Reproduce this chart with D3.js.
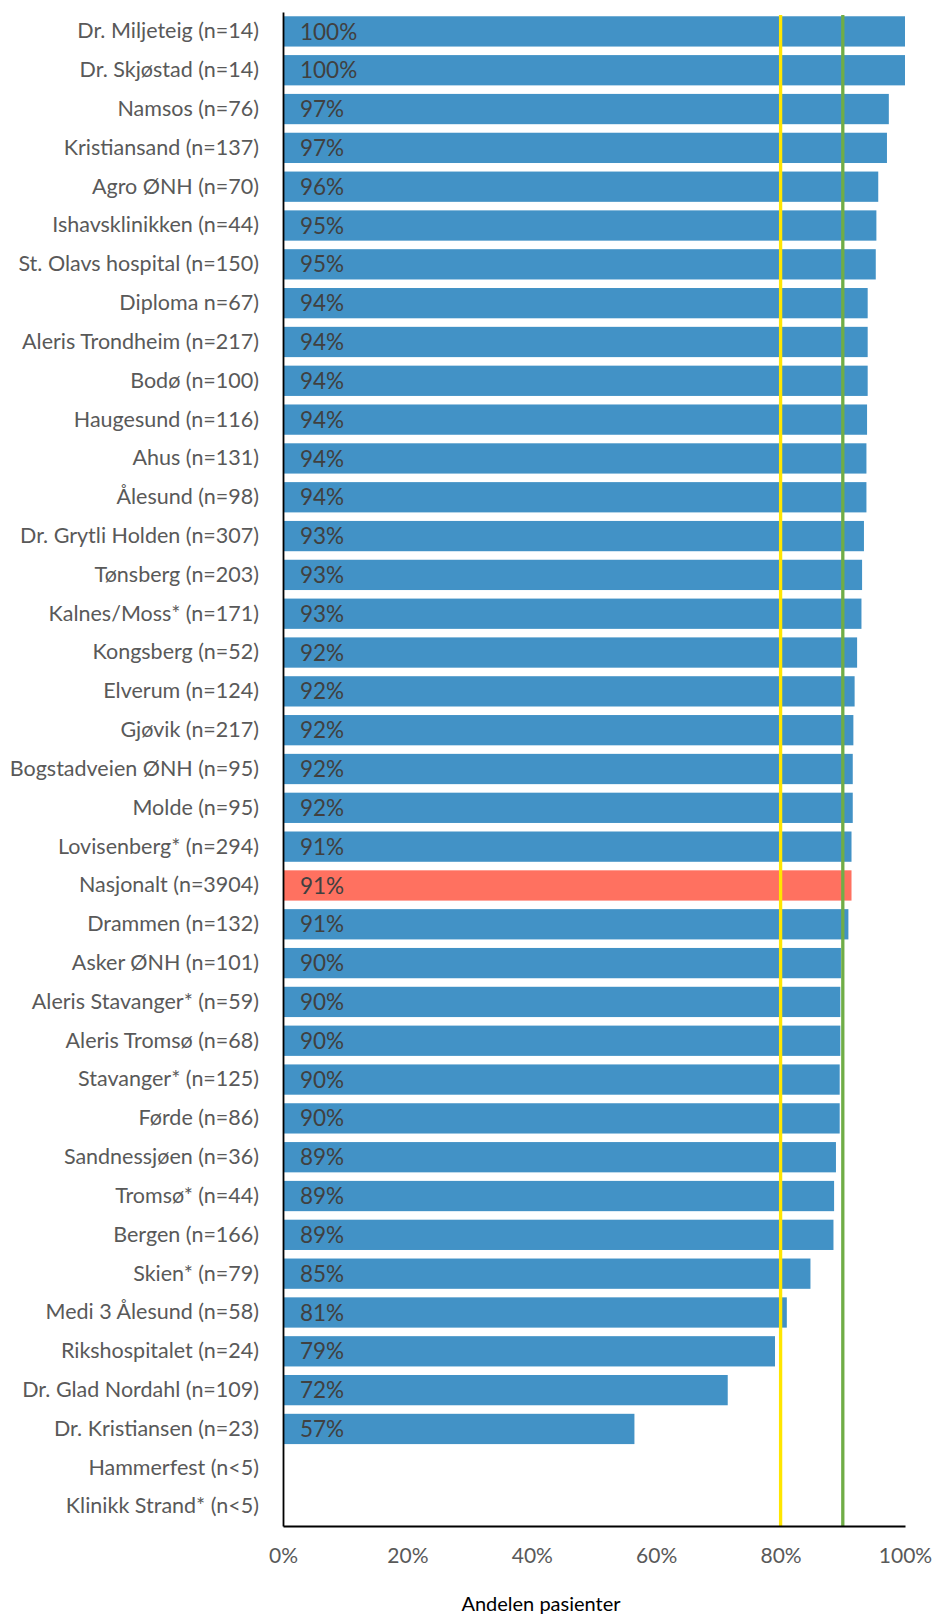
<!DOCTYPE html>
<html>
<head>
<meta charset="utf-8">
<script src="https://cdn.jsdelivr.net/npm/d3@7"></script>
<style>
  body { margin: 0; background: #fff; }
  svg { display: block; }
</style>
</head>
<body>
<div id="chart"></div>
<script>
// Categories, top to bottom
const categories = [
    'Dr. Miljeteig (n=14)', 'Dr. Skjøstad (n=14)', 'Namsos (n=76)', 'Kristiansand (n=137)',
    'Agro ØNH (n=70)', 'Ishavsklinikken (n=44)', 'St. Olavs hospital (n=150)', 'Diploma n=67)',
    'Aleris Trondheim (n=217)', 'Bodø (n=100)', 'Haugesund (n=116)', 'Ahus (n=131)',
    'Ålesund (n=98)', 'Dr. Grytli Holden (n=307)', 'Tønsberg (n=203)', 'Kalnes/Moss* (n=171)',
    'Kongsberg (n=52)', 'Elverum (n=124)', 'Gjøvik (n=217)', 'Bogstadveien ØNH (n=95)',
    'Molde (n=95)', 'Lovisenberg* (n=294)', 'Nasjonalt (n=3904)', 'Drammen (n=132)',
    'Asker ØNH (n=101)', 'Aleris Stavanger* (n=59)', 'Aleris Tromsø (n=68)', 'Stavanger* (n=125)',
    'Førde (n=86)', 'Sandnessjøen (n=36)', 'Tromsø* (n=44)', 'Bergen (n=166)',
    'Skien* (n=79)', 'Medi 3 Ålesund (n=58)', 'Rikshospitalet (n=24)', 'Dr. Glad Nordahl (n=109)',
    'Dr. Kristiansen (n=23)', 'Hammerfest (n<5)', 'Klinikk Strand* (n<5)'
];

// Share of patients (%), null = not shown (n<5)
const values = [
    100, 100, 97.4, 97.1,
    95.7, 95.4, 95.3, 94.0,
    94.0, 94.0, 93.9, 93.8,
    93.8, 93.4, 93.1, 93.0,
    92.3, 91.9, 91.7, 91.6,
    91.6, 91.4, 91.4, 90.9,
    89.7, 89.6, 89.6, 89.5,
    89.5, 88.9, 88.6, 88.5,
    84.8, 81.0, 79.1, 71.5,
    56.5, null, null
];

const highlight = ['Nasjonalt (n=3904)'];

// Target lines (%)
const targetLines = [
    { value: 80, color: '#FFE600' },
    { value: 90, color: '#70AD47' }
];

const xTicks = [0, 20, 40, 60, 80, 100];
const xTitle = 'Andelen pasienter';

const data = categories.map((c, i) => ({ category: c, value: values[i] }));

const config = {
    width: 934,
    height: 1616,
    margin: { top: 12, right: 29, bottom: 90, left: 283 },
    barColor: '#4292C6',
    highlightColor: '#FF7160',
    font: 'Lato, "Open Sans", sans-serif'
};

const width = config.width - config.margin.left - config.margin.right;
const height = config.height - config.margin.top - config.margin.bottom;

const svg = d3.select('#chart')
    .append('svg')
    .attr('width', config.width)
    .attr('height', config.height)
    .append('g')
    .attr('transform', `translate(${config.margin.left},${config.margin.top})`);

const xScale = d3.scaleLinear().domain([0, 100]).range([0, width]);
const yScale = d3.scaleBand()
    .domain(categories)
    .range([0, height])
    .paddingInner(0.22)
    .paddingOuter(0.11);

// Bars
svg.selectAll('.bar')
    .data(data.filter(d => d.value != null))
    .enter()
    .append('rect')
    .attr('class', 'bar')
    .attr('x', 0)
    .attr('y', d => yScale(d.category))
    .attr('width', d => xScale(d.value))
    .attr('height', yScale.bandwidth())
    .attr('fill', d => highlight.includes(d.category) ? config.highlightColor : config.barColor);

// Value labels
svg.selectAll('.value-label')
    .data(data.filter(d => d.value != null))
    .enter()
    .append('text')
    .attr('class', 'value-label')
    .attr('x', 17)
    .attr('y', d => yScale(d.category) + yScale.bandwidth() / 2)
    .attr('dy', '0.36em')
    .style('font-family', config.font)
    .style('font-size', '22.5px')
    .style('fill', '#404040')
    .text(d => Math.round(d.value) + '%');

// Target lines
svg.selectAll('.target')
    .data(targetLines)
    .enter()
    .append('line')
    .attr('class', 'target')
    .attr('x1', d => xScale(d.value))
    .attr('x2', d => xScale(d.value))
    .attr('y1', 3)
    .attr('y2', height)
    .attr('stroke', d => d.color)
    .attr('stroke-width', 3.3);

// Y axis (labels + line)
const yAxis = svg.append('g')
    .attr('class', 'y-axis')
    .call(d3.axisLeft(yScale).tickSize(0).tickPadding(24));
yAxis.select('.domain').attr('stroke', '#000').attr('stroke-width', 1.8);
yAxis.selectAll('text')
    .style('font-family', config.font)
    .style('font-size', '21.5px')
    .style('fill', '#595959');

// X axis
const xAxis = svg.append('g')
    .attr('class', 'x-axis')
    .attr('transform', `translate(0,${height})`)
    .call(d3.axisBottom(xScale).tickValues(xTicks).tickSize(0).tickPadding(22)
        .tickFormat(d => d + '%'));
xAxis.select('.domain').attr('stroke', '#000').attr('stroke-width', 1.8);
xAxis.selectAll('text')
    .style('font-family', config.font)
    .style('font-size', '21px')
    .style('fill', '#595959');

// Axis title
svg.append('text')
    .attr('x', 541 - config.margin.left)
    .attr('y', height + 85)
    .attr('text-anchor', 'middle')
    .style('font-family', config.font)
    .style('font-size', '20px')
    .style('fill', '#000')
    .text(xTitle);
</script>
</body>
</html>
